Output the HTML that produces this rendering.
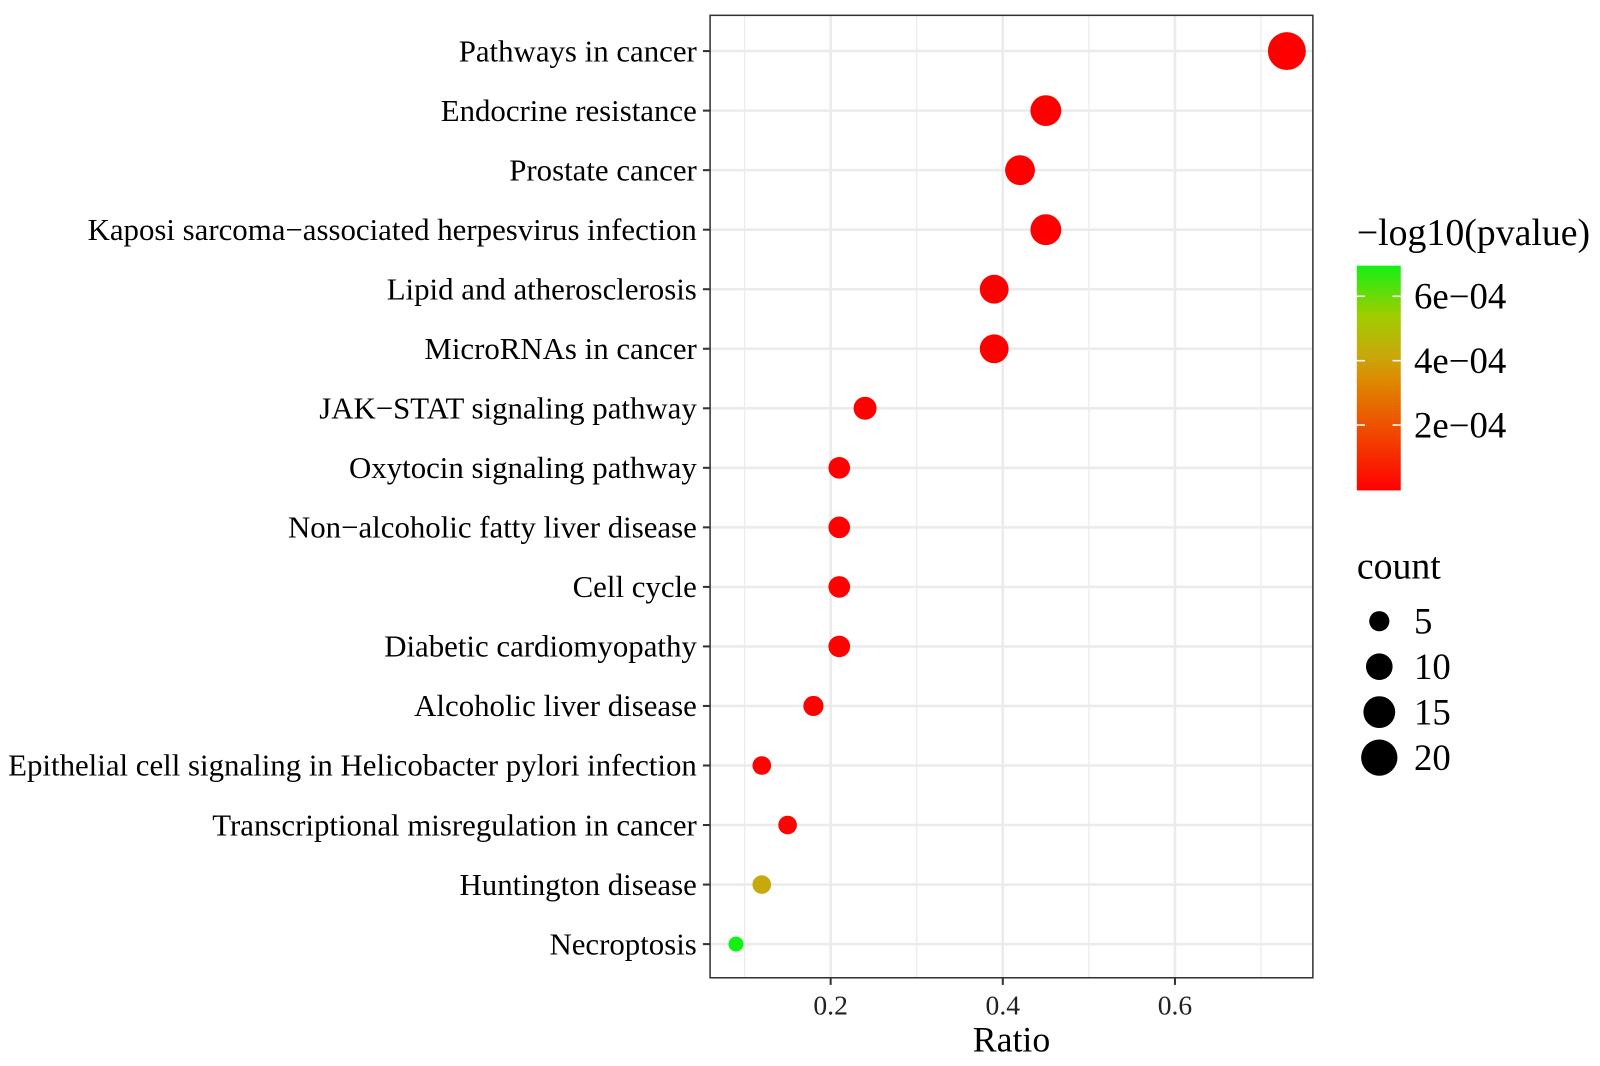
<!DOCTYPE html>
<html><head><meta charset="utf-8"><style>
body{margin:0;background:#fff}
svg{display:block;font-family:"Liberation Serif",serif}
</style></head><body>
<svg id="c" width="1600" height="1066"><g id="root" transform="scale(1.0217)"></g></svg>
<script>
const categories=["Pathways in cancer","Endocrine resistance","Prostate cancer","Kaposi sarcoma\u2212associated herpesvirus infection","Lipid and atherosclerosis","MicroRNAs in cancer","JAK\u2212STAT signaling pathway","Oxytocin signaling pathway","Non\u2212alcoholic fatty liver disease","Cell cycle","Diabetic cardiomyopathy","Alcoholic liver disease","Epithelial cell signaling in Helicobacter pylori infection","Transcriptional misregulation in cancer","Huntington disease","Necroptosis"];
const ratios=[0.73,0.45,0.42,0.45,0.39,0.39,0.24,0.21,0.21,0.21,0.21,0.18,0.12,0.15,0.12,0.09];
const counts=[22,14,13,14,12,12,7,6,6,6,6,5,4,4,4,2];
const pvalues=[0.000001,0.000001,0.000001,0.000001,0.000001,0.000001,0.000002,0.000003,0.000003,0.000003,0.000003,0.000005,0.000008,0.00001,0.00042,0.000695];
const xTicks=[0.2,0.4,0.6];
const xMinor=[0.1,0.3,0.5,0.7];
const colorTicks=[0.0002,0.0004,0.0006];
const sizeLegend=[5,10,15,20];

const NS="http://www.w3.org/2000/svg";
const svg=document.getElementById('root');
function mk(t,a,p){const e=document.createElementNS(NS,t);for(const k in a)e.setAttribute(k,a[k]);(p||svg).appendChild(e);return e;}
const PL=695,PR=1285,PT=15,PB=957;
const x=v=>644.5+v*842.5;
const y=i=>50+i*58.27;
const r=c=>Math.sqrt(Math.max(0,25+14.5*c));
const PMAX=0.000695;
const stops=[[0,[255,0,0]],[0.25,[240,70,0]],[0.5,[220,140,0]],[0.6,[200,168,12]],[0.78,[160,205,0]],[1,[20,240,20]]];
function col(p){let t=Math.min(1,p/PMAX);for(let i=1;i<stops.length;i++){if(t<=stops[i][0]){const a=stops[i-1],b=stops[i];const f=(t-a[0])/(b[0]-a[0]);const c=a[1].map((v,k)=>Math.round(v+(b[1][k]-v)*f));return `rgb(${c})`;}}return 'rgb(20,240,20)';}

xMinor.forEach(v=>{const l=mk('line',{x1:x(v),x2:x(v),y1:PT,y2:PB,stroke:'#ebebeb','stroke-width':1.2});});
xTicks.forEach(v=>{const l=mk('line',{x1:x(v),x2:x(v),y1:PT,y2:PB,stroke:'#ebebeb','stroke-width':2.5});});
categories.forEach((c,i)=>{const l=mk('line',{x1:PL,x2:PR,y1:y(i),y2:y(i),stroke:'#ebebeb','stroke-width':2.5});});
const fr=mk('rect',{x:PL,y:PT,width:PR-PL,height:PB-PT,fill:'none',stroke:'#333','stroke-width':1.5});

categories.forEach((c,i)=>{
 const tk=mk('line',{x1:PL-7,x2:PL,y1:y(i),y2:y(i),stroke:'#333','stroke-width':2});
 
 const t=mk('text',{x:PL-13,y:y(i)+10,'text-anchor':'end','font-size':30.2,fill:'#000'});t.textContent=c;
 
});
xTicks.forEach(v=>{
 const tk=mk('line',{x1:x(v),x2:x(v),y1:PB,y2:PB+7,stroke:'#333','stroke-width':2});
 
 const t=mk('text',{x:x(v),y:PB+36,'text-anchor':'middle','font-size':27,fill:'#222'});t.textContent=v.toFixed(1);
 
});
const xt=mk('text',{x:990,y:1029,'text-anchor':'middle','font-size':35});xt.textContent='Ratio';

categories.forEach((c,i)=>{
 const p=mk('circle',{cx:x(ratios[i]),cy:y(i),r:r(counts[i]),fill:col(pvalues[i])});
 
});
const ct=mk('text',{x:1328,y:240,'font-size':37});ct.textContent='\u2212log10(pvalue)';

const defs=mk('defs',{});const g=mk('linearGradient',{id:'gr',x1:0,y1:1,x2:0,y2:0},defs);
stops.forEach(s=>mk('stop',{offset:s[0],'stop-color':`rgb(${s[1]})`},g));
const cb=mk('rect',{x:1328,y:260,width:43,height:220,fill:'url(#gr)'});

const cy=v=>479-v/0.0002*63;
colorTicks.forEach(v=>{
 mk('line',{x1:1328,x2:1336,y1:cy(v),y2:cy(v),stroke:'#fff','stroke-width':1.5});
 mk('line',{x1:1363,x2:1371,y1:cy(v),y2:cy(v),stroke:'#fff','stroke-width':1.5});
 const t=mk('text',{x:1384,y:cy(v)+12,'font-size':36});t.textContent=(v*10000).toFixed(0)+'e\u221204';
 
});
const st=mk('text',{x:1328,y:566,'font-size':37});st.textContent='count';

sizeLegend.forEach((v,i)=>{
 const yy=608+i*44.5;
 const c=mk('circle',{cx:1350,cy:yy,r:r(v),fill:'#000'});
 
 const t=mk('text',{x:1384,y:yy+12,'font-size':36});t.textContent=v;
 
});
</script>
</body></html>
